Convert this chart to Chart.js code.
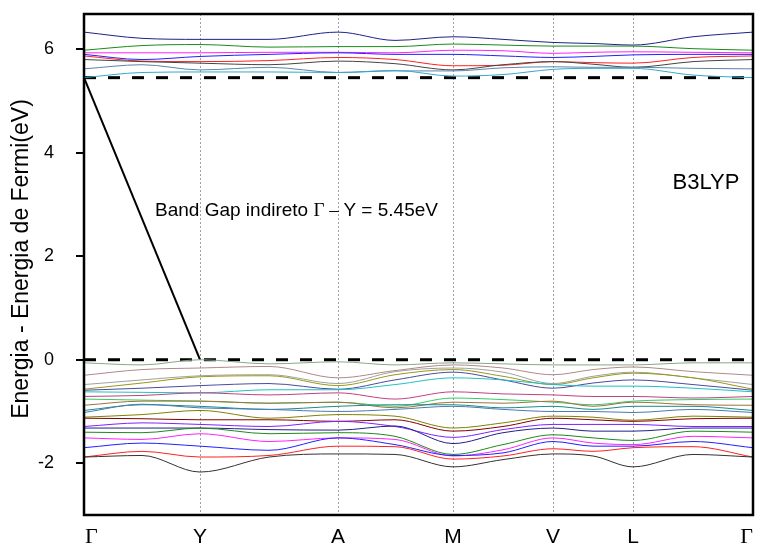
<!DOCTYPE html>
<html>
<head>
<meta charset="utf-8">
<script src="https://cdn.jsdelivr.net/npm/chart.js@4.4.1/dist/chart.umd.min.js"></script>
<style>
  html, body { margin: 0; padding: 0; background: #fff; }
  #wrap { width: 762px; height: 548px; }
</style>
</head>
<body>
<div id="wrap"><canvas id="bands"></canvas></div>
<script>
// High symmetry points of the k-path
const symLabels = ['Γ', 'Y', 'A', 'M', 'V', 'L', 'Γ'];
const symK = [0, 1.16, 2.54, 3.69, 4.69, 5.49, 6.69];
// k values where each band is sampled (symmetry points + midpoints)
const kPath = [0, 0.58, 1.16, 1.85, 2.54, 3.11, 3.69, 4.19, 4.69, 5.09, 5.49, 6.09, 6.69];

const yTicks = [-2, 0, 2, 4, 6];
const gapValue = 5.45;   // CBM at Γ, VBM at Y (E = 0)

// Conduction bands (eV), lowest first
const cb1 = [5.45, 5.55, 5.56, 5.56, 5.55, 5.59, 5.48, 5.51, 5.61, 5.63, 5.63, 5.50, 5.45];
const cb2 = [5.62, 5.70, 5.60, 5.65, 5.55, 5.58, 5.58, 5.64, 5.66, 5.65, 5.65, 5.63, 5.62];
const cb3 = [5.80, 5.76, 5.73, 5.70, 5.77, 5.72, 5.60, 5.70, 5.76, 5.71, 5.65, 5.76, 5.80];
const cb4 = [5.87, 5.77, 5.76, 5.78, 5.84, 5.80, 5.68, 5.69, 5.76, 5.74, 5.73, 5.84, 5.87];
const cb5 = [5.90, 5.80, 5.86, 5.90, 5.93, 5.90, 5.90, 5.87, 5.84, 5.86, 5.89, 5.90, 5.90];
const cb6 = [5.93, 5.93, 5.93, 5.94, 5.94, 5.93, 5.98, 5.97, 5.92, 5.94, 5.95, 5.94, 5.93];
const cb7 = [5.98, 6.07, 6.09, 6.04, 6.05, 6.05, 6.10, 6.08, 6.06, 6.06, 6.06, 6.01, 5.98];
const cb8 = [6.33, 6.21, 6.19, 6.19, 6.33, 6.17, 6.24, 6.19, 6.13, 6.11, 6.08, 6.24, 6.33];

// Valence bands (eV), lowest first
const vb01 = [-1.88, -1.85, -2.17, -1.88, -1.82, -1.83, -2.07, -1.93, -1.82, -1.86, -2.07, -1.83, -1.88];
const vb02 = [-1.88, -1.77, -1.88, -1.85, -1.67, -1.68, -1.92, -1.86, -1.72, -1.77, -1.70, -1.68, -1.88];
const vb03 = [-1.70, -1.61, -1.67, -1.75, -1.51, -1.64, -1.85, -1.80, -1.58, -1.67, -1.67, -1.58, -1.70];
const vb04 = [-1.51, -1.54, -1.43, -1.58, -1.51, -1.54, -1.86, -1.74, -1.51, -1.61, -1.64, -1.48, -1.51];
const vb05 = [-1.40, -1.41, -1.32, -1.43, -1.41, -1.48, -1.83, -1.64, -1.45, -1.51, -1.56, -1.38, -1.40];
const vb06 = [-1.32, -1.32, -1.32, -1.35, -1.36, -1.28, -1.62, -1.41, -1.32, -1.38, -1.38, -1.32, -1.32];
const vb07 = [-1.29, -1.22, -1.25, -1.29, -1.19, -1.29, -1.50, -1.35, -1.25, -1.25, -1.25, -1.29, -1.29];
const vb08 = [-1.13, -1.14, -1.16, -1.16, -1.19, -1.16, -1.38, -1.29, -1.13, -1.16, -1.19, -1.14, -1.13];
const vb09 = [-1.11, -1.06, -0.98, -1.13, -1.06, -1.09, -1.32, -1.22, -1.09, -1.11, -1.17, -1.09, -1.11];
const vb10 = [-1.02, -0.86, -0.93, -0.96, -1.00, -0.96, -0.90, -0.96, -1.00, -1.00, -1.02, -0.96, -1.02];
const vb11 = [-0.98, -0.87, -0.90, -0.96, -0.90, -0.87, -0.87, -0.93, -0.90, -0.96, -0.90, -0.90, -0.98];
const vb12 = [-0.88, -0.80, -0.80, -0.84, -0.82, -0.93, -0.82, -0.84, -0.80, -0.90, -0.82, -0.87, -0.88];
const vb13 = [-0.76, -0.78, -0.80, -0.84, -0.82, -0.90, -0.74, -0.77, -0.82, -0.87, -0.80, -0.77, -0.76];
const vb14 = [-0.71, -0.69, -0.64, -0.68, -0.64, -0.76, -0.62, -0.66, -0.68, -0.71, -0.71, -0.74, -0.71];
const vb15 = [-0.62, -0.63, -0.64, -0.58, -0.58, -0.48, -0.35, -0.39, -0.48, -0.51, -0.51, -0.55, -0.62];
const vb16 = [-0.59, -0.55, -0.50, -0.46, -0.57, -0.39, -0.24, -0.39, -0.55, -0.45, -0.39, -0.48, -0.59];
const vb17 = [-0.57, -0.45, -0.33, -0.31, -0.50, -0.29, -0.19, -0.32, -0.48, -0.35, -0.26, -0.35, -0.57];
const vb18 = [-0.48, -0.39, -0.31, -0.29, -0.46, -0.23, -0.16, -0.24, -0.46, -0.32, -0.24, -0.35, -0.48];
const vb19 = [-0.30, -0.19, -0.16, -0.13, -0.35, -0.21, -0.10, -0.16, -0.29, -0.19, -0.14, -0.23, -0.30];
const vb20 = [-0.06, -0.10, 0.00, -0.08, -0.04, -0.10, -0.06, -0.08, -0.10, -0.10, -0.10, -0.06, -0.06];

const conduction = [cb1, cb2, cb3, cb4, cb5, cb6, cb7, cb8];
const conductionColors = ['#33aacc', '#5a84a8', '#444444', '#ff2020', '#2020ff', '#ff20ff', '#1a8a1a', '#20208a'];
const valence = [vb01, vb02, vb03, vb04, vb05, vb06, vb07, vb08, vb09, vb10,
                 vb11, vb12, vb13, vb14, vb15, vb16, vb17, vb18, vb19, vb20];
const valenceColors = ['#333333', '#ff2020', '#2020ff', '#ff20ff', '#1a8a1a', '#20208a', '#8020ff', '#800000',
                       '#808000', '#4a7ab0', '#1a8a8a', '#a0703c', '#33cc66', '#c04080', '#20c0c0', '#4a4aa0',
                       '#98981a', '#a0a0a0', '#b08888', '#88a888'];

const FONT = 'Arial, "Liberation Sans", sans-serif';
const SERIF = '"Times New Roman", "Liberation Serif", serif';

function bandDataset(values, color) {
    return {
        data: values.map((e, i) => ({ x: kPath[i], y: e })),
        borderColor: color,
        borderWidth: 1,
        pointRadius: 0,
        cubicInterpolationMode: 'monotone',
        fill: false
    };
}

const datasets = [];
valence.forEach((b, i) => datasets.push(bandDataset(b, valenceColors[i])));
conduction.forEach((b, i) => datasets.push(bandDataset(b, conductionColors[i])));

// Fermi level and conduction band minimum
[0, gapValue].forEach(e => datasets.push({
    data: [{ x: symK[0], y: e }, { x: symK[symK.length - 1], y: e }],
    borderColor: '#000',
    borderWidth: 3,
    borderDash: [12, 12],
    pointRadius: 0,
    tension: 0
}));
// indirect gap Γ -> Y
datasets.push({
    data: [{ x: symK[0], y: gapValue }, { x: symK[1], y: 0 }],
    borderColor: '#000',
    borderWidth: 2,
    pointRadius: 0,
    tension: 0
});

const decorations = {
    id: 'decorations',
    beforeDatasetsDraw(chart) {
        const { ctx, chartArea, scales: { x } } = chart;
        ctx.save();
        ctx.strokeStyle = '#a0a0a0';
        ctx.lineWidth = 1;
        ctx.setLineDash([2, 2]);
        symK.slice(1, -1).forEach(k => {
            const px = Math.round(x.getPixelForValue(k)) + 0.5;
            ctx.beginPath();
            ctx.moveTo(px, chartArea.top);
            ctx.lineTo(px, chartArea.bottom);
            ctx.stroke();
        });
        ctx.restore();
    },
    afterDraw(chart) {
        const { ctx, chartArea, scales: { x, y } } = chart;
        ctx.save();

        // frame
        ctx.strokeStyle = '#000';
        ctx.lineWidth = 2.5;
        ctx.strokeRect(chartArea.left, chartArea.top,
                       chartArea.right - chartArea.left, chartArea.bottom - chartArea.top);

        // k-path labels
        ctx.fillStyle = '#000';
        ctx.textBaseline = 'middle';
        symLabels.forEach((lab, i) => {
            const px = x.getPixelForValue(symK[i]);
            ctx.font = (lab === 'Γ' ? '22px ' + SERIF : '21px ' + FONT);
            if (i === 0) { ctx.textAlign = 'left'; ctx.fillText(lab, px + 1, 537); }
            else if (i === symLabels.length - 1) { ctx.textAlign = 'right'; ctx.fillText(lab, px, 537); }
            else { ctx.textAlign = 'center'; ctx.fillText(lab, px, 537); }
        });

        // y axis title
        ctx.save();
        ctx.translate(22, 259);
        ctx.rotate(-Math.PI / 2);
        ctx.textAlign = 'center';
        ctx.font = '23px ' + FONT;
        ctx.fillText('Energia - Energia de Fermi(eV)', 0, 0);
        ctx.restore();

        // functional label
        ctx.textAlign = 'center';
        ctx.font = '22px ' + FONT;
        ctx.fillText('B3LYP', x.getPixelForValue(6.22), y.getPixelForValue(3.42));

        // gap annotation (Γ in serif like the axis labels)
        let tx = x.getPixelForValue(0.71);
        const ty = y.getPixelForValue(2.87);
        ctx.textAlign = 'left';
        const parts = [
            ['Band Gap indireto ', FONT],
            ['Γ – ', SERIF],
            ['Y = ' + gapValue.toFixed(2) + 'eV', FONT]
        ];
        parts.forEach(([txt, fam]) => {
            ctx.font = '19px ' + fam;
            ctx.fillText(txt, tx, ty);
            tx += ctx.measureText(txt).width;
        });
        ctx.restore();
    }
};

new Chart('bands', {
    type: 'line',
    data: { datasets: datasets },
    plugins: [decorations],
    options: {
        responsive: true,
        maintainAspectRatio: false,
        animation: false,
        events: [],
        layout: { padding: { top: 14, right: 9, left: 0, bottom: 0 } },
        plugins: {
            legend: { display: false },
            tooltip: { enabled: false }
        },
        scales: {
            x: {
                type: 'linear',
                min: symK[0],
                max: symK[symK.length - 1],
                grid: { display: false },
                border: { display: false },
                ticks: { display: false },
                afterFit(scale) {
                    scale.height = 33;
                    scale.paddingLeft = 0;
                    scale.paddingRight = 0;
                }
            },
            y: {
                min: -3,
                max: 6.68,
                afterBuildTicks(scale) { scale.ticks = yTicks.map(v => ({ value: v })); },
                grid: {
                    drawOnChartArea: false,
                    drawTicks: true,
                    tickLength: 8,
                    color: '#000',
                    lineWidth: 2
                },
                border: { display: false },
                ticks: {
                    color: '#000',
                    padding: 22,
                    font: { family: FONT, size: 18 }
                },
                afterFit(scale) {
                    scale.width = 84;
                    scale.paddingTop = 0;
                    scale.paddingBottom = 0;
                }
            }
        }
    }
});
</script>
</body>
</html>
